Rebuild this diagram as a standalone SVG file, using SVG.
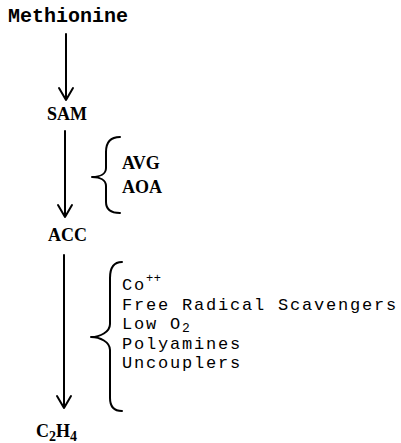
<svg xmlns="http://www.w3.org/2000/svg" width="401" height="443" viewBox="0 0 401 443">
<style>
.mono{font-family:"Liberation Mono","DejaVu Sans Mono",monospace;font-size:17px;letter-spacing:1.8px;fill:#000}
.monob{font-family:"Liberation Mono","DejaVu Sans Mono",monospace;font-size:20px;font-weight:bold;fill:#000}
.ser{font-family:"Liberation Serif","DejaVu Serif",serif;font-weight:bold;font-size:18px;fill:#000}
.sub{font-size:14px}
.line{fill:none;stroke:#000;stroke-width:2;stroke-linecap:round;stroke-linejoin:round}
</style>
<rect width="401" height="443" fill="#fff"/>
<g id="methionine"><text class="monob" x="8" y="22">Methionine</text></g>
<g id="sam"><text class="ser" x="47" y="120">SAM</text></g>
<g id="acc"><text class="ser" x="48" y="241">ACC</text></g>
<g id="c2h4"><text class="ser" x="36" y="437" font-size="19">C<tspan class="sub" dy="4">2</tspan><tspan dy="-4">H</tspan><tspan class="sub" dy="4">4</tspan></text></g>
<g id="inhibitors1">
<path class="line" d="M120,137 C110,137 106,143 106,152 L106,168 C106,174 100,177 92,177 C100,177 106,180 106,186 L106,202 C106,209 110,213 120,213"/>
<text class="ser" x="122" y="169" font-size="16">AVG</text>
<text class="ser" x="122" y="193" font-size="16">AOA</text>
</g>
<g id="inhibitors2">
<path class="line" d="M122,262 C114,262 110,268 110,278 L110,324 C110,332 100,337 91,337 C100,337 110,342 110,350 L110,398 C110,407 114,411 122,411"/>
<text class="mono" x="122" y="290">Co<tspan font-size="12" letter-spacing="0.5" dy="-8">++</tspan></text>
<text class="mono" x="122" y="309.5">Free Radical Scavengers</text>
<text class="mono" x="122" y="329">Low O<tspan font-size="13" letter-spacing="0.5" dy="3">2</tspan></text>
<text class="mono" x="122" y="348.5">Polyamines</text>
<text class="mono" x="122" y="368">Uncouplers</text>
</g>
<g id="connectors">
<path class="line" d="M66,34 L66,100 M59,88 L66,100 L73,88"/>
<path class="line" d="M65,131 L65,217 M58,205 L65,217 L72,205"/>
<path class="line" d="M64,255 L64,408 M57,396 L64,408 L71,396"/>
</g>
</svg>
